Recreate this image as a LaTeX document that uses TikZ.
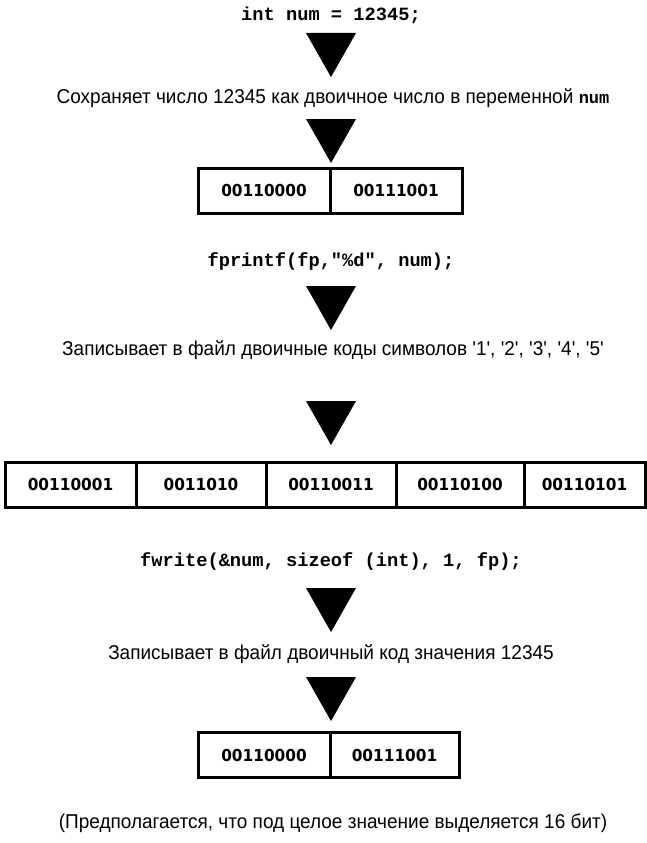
\documentclass[tikz,border=0pt]{standalone}
\usepackage{fontspec}
\setmainfont{Liberation Sans}
\newfontfamily\txtfont{Liberation Sans}[FakeStretch=0.95]
\newfontfamily\codefont{Liberation Mono}
\newfontfamily\digfont{DejaVu Sans}[FakeStretch=0.93]
\begin{document}
\begin{tikzpicture}[x=1pt,y=-1pt,
  lbl/.style={font=\txtfont\fontsize{20}{24}\selectfont, inner sep=0pt},
  code/.style={font=\codefont\bfseries\fontsize{18.7}{22}\selectfont, inner sep=0pt},
  cell/.style={draw, line width=3pt, minimum height=45pt, inner sep=0pt,
    font=\digfont\bfseries\fontsize{16.5}{19}\selectfont},
  tri/.style={fill=black}]
\useasboundingbox (0,0) rectangle (647,843);
\newcommand{\downtri}[2]{\fill[tri] (#1-25,#2) -- (#1+25,#2) -- (#1,#2+44) -- cycle;}

\node[code] (c1) at (331,15) {int num = 12345;};
\downtri{331}{33}
\node[lbl] (t1) at (333,98) {Сохраняет число 12345 как двоичное число в переменной {\codefont\bfseries\fontsize{17}{20}\selectfont num}};
\downtri{331}{119}
\node[cell, minimum width=132pt] (a1) at (264,190.5) {00110000};
\node[cell, minimum width=132pt] (a2) at (396,190.5) {00111001};

\node[code] (c2) at (331,262) {fprintf(fp,"\%d", num);};
\downtri{331}{286}
\node[lbl] (t2) at (333,350) {Записывает в файл двоичные коды символов '1', '2', '3', '4', '5'};
\downtri{331}{401}
\node[cell, minimum width=131pt] (b1) at (70.5,484.5) {00110001};
\node[cell, minimum width=130pt] (b2) at (201,484.5) {0011010};
\node[cell, minimum width=130pt] (b3) at (331,484.5) {00110011};
\node[cell, minimum width=128pt] (b4) at (460,484.5) {00110100};
\node[cell, minimum width=121pt] (b5) at (584.5,484.5) {00110101};

\node[code] (c3) at (331,562) {fwrite(\&num, sizeof (int), 1, fp);};
\downtri{331}{588}
\node[lbl] (t3) at (331,654) {Записывает в файл двоичный код значения 12345};
\downtri{331}{677}
\node[cell, minimum width=132pt] (d1) at (264,755) {00110000};
\node[cell, minimum width=129pt] (d2) at (394.5,755) {00111001};

\node[lbl] (t4) at (333,823) {(Предполагается, что под целое значение выделяется 16 бит)};
\end{tikzpicture}
\end{document}
